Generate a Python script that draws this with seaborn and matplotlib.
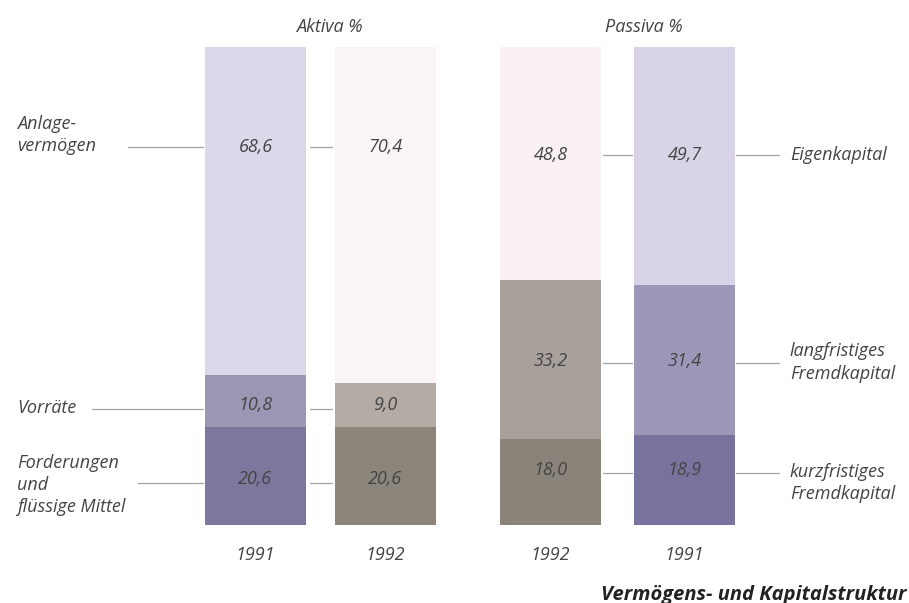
"""
Vermögens- und Kapitalstruktur: Aktiva / Passiva 1991 vs 1992 (stacked bars)
"""
import matplotlib
matplotlib.use("Agg")
import matplotlib.pyplot as plt
import seaborn as sns

sns.set_style("white")
plt.rcParams["font.family"] = ["Open Sans", "DejaVu Sans"]

# ---------------- DATA ----------------
bars = ["Aktiva 1991", "Aktiva 1992", "Passiva 1992", "Passiva 1991"]
years = ["1991", "1992", "1992", "1991"]
bottom_seg = [20.6, 20.6, 18.0, 18.9]   # Forderungen / kurzfristiges FK
middle_seg = [10.8, 9.0, 33.2, 31.4]    # Vorräte / langfristiges FK
top_seg = [68.6, 70.4, 48.8, 49.7]      # Anlagevermögen / Eigenkapital

left_labels = ["Anlage-\nvermögen", "Vorräte", "Forderungen\nund\nflüssige Mittel"]
right_labels = ["Eigenkapital", "langfristiges\nFremdkapital", "kurzfristiges\nFremdkapital"]

# colours per bar, one list per layer
top_colors = ["#dcd7e9", "#f9f5f6", "#f8f0f2", "#d8d3e6"]
middle_colors = ["#9b96b4", "#b3aba4", "#a8a09b", "#9c97b8"]
bottom_colors = ["#7b779d", "#8c857c", "#8a837a", "#77739c"]

# ---------------- LAYOUT ----------------
pos = [0, 1.0, 2.27, 3.3]
bar_w = 0.78
txt = "#444444"
line_c = "#a0a0a0"
fs = 13

fig = plt.figure(figsize=(9.09, 6.03), dpi=100)
ax = fig.add_axes([0, 0.1294, 1, 0.7927])

cum_mid = [b + m for b, m in zip(bottom_seg, middle_seg)]
cum_top = [c + t for c, t in zip(cum_mid, top_seg)]

for heights, cols in [(cum_top, top_colors), (cum_mid, middle_colors), (bottom_seg, bottom_colors)]:
    sns.barplot(x=pos, y=heights, hue=bars, palette=dict(zip(bars, cols)),
                native_scale=True, width=bar_w, saturation=1, linewidth=0,
                legend=False, ax=ax)

ax.set_xlim(-1.965, 5.027)
ax.set_ylim(0, 100)
ax.axis("off")


def fmt(v):
    return f"{v:.1f}".replace(".", ",")


# value labels
aktiva_rows = [9.6, 25.0, 79.1]
passiva_rows = [11.4, 34.2, 77.4]
for i, x in enumerate(pos):
    rows = aktiva_rows if i < 2 else passiva_rows
    for y, v in zip(rows, [bottom_seg[i], middle_seg[i], top_seg[i]]):
        ax.text(x, y, fmt(v), ha="center", va="center", fontsize=fs,
                style="italic", color=txt)
    ax.text(x, -6.3, years[i], ha="center", va="center", fontsize=fs,
            style="italic", color=txt)

# leader lines
half = bar_w / 2
gap_a = (pos[0] + half + 0.03, pos[1] - half - 0.02)
gap_p = (pos[2] + half + 0.01, pos[3] - half - 0.01)
left_starts = [-0.98, -1.26, -0.90]
left_rows = [79.1, 24.3, 8.8]
for xs, y in zip(left_starts, left_rows):
    ax.plot([xs, pos[0] - half - 0.01], [y, y], color=line_c, lw=0.9)
    ax.plot(gap_a, [y, y], color=line_c, lw=0.9)

right_rows = [77.4, 33.9, 10.9]
for y in right_rows:
    ax.plot(gap_p, [y, y], color=line_c, lw=0.9)
    ax.plot([pos[3] + half + 0.01, 4.03], [y, y], color=line_c, lw=0.9)

# category labels
for lab, y in zip(left_labels, [81.6, 24.5, 8.4]):
    ax.text(-1.835, y, lab, ha="left", va="center", fontsize=fs,
            style="italic", color=txt, linespacing=1.3)
for lab, y in zip(right_labels, [77.4, 34.0, 8.7]):
    ax.text(4.11, y, lab, ha="left", va="center", fontsize=fs,
            style="italic", color=txt, linespacing=1.3)

# headers
ax.text((pos[0] + pos[1]) / 2 + 0.07, 104.2, "Aktiva %", ha="center", va="center",
        fontsize=fs, style="italic", color=txt)
ax.text((pos[2] + pos[3]) / 2 + 0.2, 104.2, "Passiva %", ha="center", va="center",
        fontsize=fs, style="italic", color=txt)

fig.text(0.997, 0.014, "Vermögens- und Kapitalstruktur", ha="right", va="center",
         fontsize=14.5, style="italic", fontweight="bold", color="#222222")

plt.savefig("out.png", dpi=100)
plt.close()
